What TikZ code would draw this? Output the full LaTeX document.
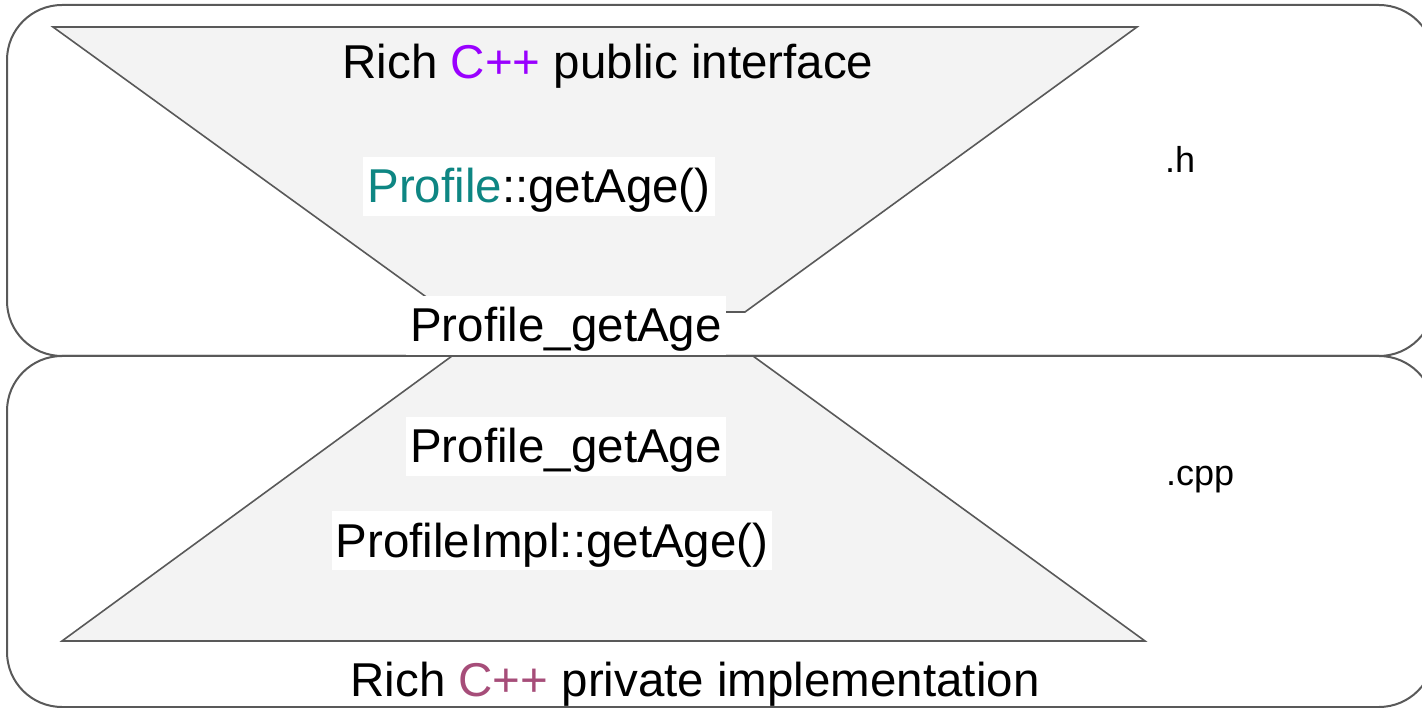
\documentclass[tikz,border=0pt]{standalone}
\usepackage{fontspec}
\setmainfont{Liberation Sans}
\definecolor{linegray}{HTML}{595959}
\definecolor{trapfill}{HTML}{F3F3F3}
\definecolor{cpppurple}{HTML}{9900FF}
\definecolor{cpppink}{HTML}{A64D79}
\definecolor{profteal}{HTML}{0E8683}
\tikzset{
  frame/.style={draw=linegray, line width=2pt, rounded corners=55pt},
  trap/.style={draw=linegray, line width=1.6pt, fill=trapfill, line join=miter},
  bigtext/.style={font=\fontsize{47.5}{57}\selectfont, inner sep=0pt, anchor=base},
  codebox/.style={font=\fontsize{47.5}{57}\selectfont, fill=white, anchor=base,
     inner xsep=4pt, inner ysep=4pt, text height=42pt, text depth=9pt},
  ext/.style={font=\fontsize{36}{43}\selectfont, inner sep=0pt, anchor=base west}
}
\begin{document}
\begin{tikzpicture}[x=1pt,y=-1pt]
\useasboundingbox (0,0) rectangle (1422,708);
\clip (0,0) rectangle (1422,708);
% trapezoids
\draw[trap] (53,27) -- (1137,27) -- (745,312) -- (447,312) -- cycle;
\draw[trap] (452,356) -- (753,356) -- (1145,641) -- (62,641) -- cycle;
% frames
\draw[frame] (7,5) rectangle (1434,356);
\draw[frame] (7,356) rectangle (1434,707);
% texts
\node[bigtext] (pubif) at (608,79) {Rich \textcolor{cpppurple}{C++} public interface};
\node[codebox] (method) at (539,203) {\textcolor{profteal}{Profile}::getAge()};
\node[codebox] (cfun1) at (566,342) {Profile\_getAge};
\node[codebox] (cfun2) at (566,463) {Profile\_getAge};
\node[codebox] (impl) at (552,557) {ProfileImpl::getAge()};
\node[bigtext] (privimpl) at (695,696) {Rich \textcolor{cpppink}{C++} private implementation};
\node[ext] (hdr) at (1165,173) {.h};
\node[ext] (src) at (1166,485) {.cpp};
\end{tikzpicture}
\end{document}
